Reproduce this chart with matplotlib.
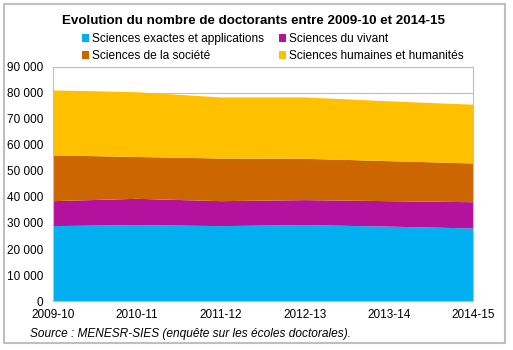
import matplotlib
matplotlib.use("Agg")
import matplotlib.pyplot as plt
from matplotlib.patches import Rectangle
from matplotlib.ticker import FuncFormatter

plt.rcParams['font.family'] = ['Liberation Sans', 'DejaVu Sans']

years = ['2009-10', '2010-11', '2011-12', '2012-13', '2013-14', '2014-15']
exactes = [28800, 29200, 28800, 29200, 28600, 27900]
vivant = [9600, 10100, 9600, 9600, 9800, 10100]
societe = [17600, 16100, 16400, 15900, 15400, 14900]
humaines = [25000, 24900, 23500, 23600, 23000, 22600]

labels = ['Sciences exactes et applications', 'Sciences du vivant',
          'Sciences de la société', 'Sciences humaines et humanités']
colors = ['#00B0F0', '#B3119E', '#CC6600', '#FFC000']

fig = plt.figure(figsize=(5.13, 3.5), dpi=100)
ax = fig.add_axes([53 / 513, 1 - 301 / 350, 420 / 513, 234 / 350])

x = range(len(years))
ax.stackplot(x, exactes, vivant, societe, humaines, colors=colors, labels=labels, zorder=2)

ax.set_xlim(0, len(years) - 1)
ax.set_ylim(0, 90000)
ax.set_yticks(range(0, 90001, 10000))
ax.yaxis.set_major_formatter(FuncFormatter(lambda v, p: f"{int(v):,}".replace(',', ' ')))
ax.set_xticks(list(x))
ax.set_xticklabels(years)
ax.tick_params(length=0, labelsize=8.5, colors='black')
ax.tick_params(axis='x', pad=6)
ax.tick_params(axis='y', pad=7)
ax.grid(axis='y', color='#BFBFBF', linewidth=0.8, zorder=1)
for s in ax.spines.values():
    s.set_color('#BFBFBF')
    s.set_linewidth(0.8)

fig.text(0.495, 1 - 21 / 350, 'Evolution du nombre de doctorants entre 2009-10 et 2014-15',
         ha='center', va='center', fontsize=9.6, fontweight='bold')

# legend fills column by column, so reorder to get rows like the original
handles, _ = ax.get_legend_handles_labels()
order = [0, 2, 1, 3]
leg = fig.legend([handles[i] for i in order], [labels[i] for i in order], ncol=2,
                 loc='upper left', bbox_to_anchor=(76 / 513, 1 - 27 / 350),
                 frameon=False, fontsize=8.6, handlelength=0.6, handleheight=0.6,
                 handletextpad=0.2, columnspacing=1.3, labelspacing=0.45, borderpad=0)

fig.text(30 / 513, 1 - 334 / 350, 'Source : MENESR-SIES (enquête sur les écoles doctorales).',
         ha='left', va='center', fontsize=8.6, style='italic')

fig.patches.append(Rectangle((4 / 513, 7 / 350), 501 / 513, 339 / 350, transform=fig.transFigure,
                             fill=False, edgecolor='#BFBFBF', linewidth=1.5))

fig.savefig('out.png', dpi=100)
